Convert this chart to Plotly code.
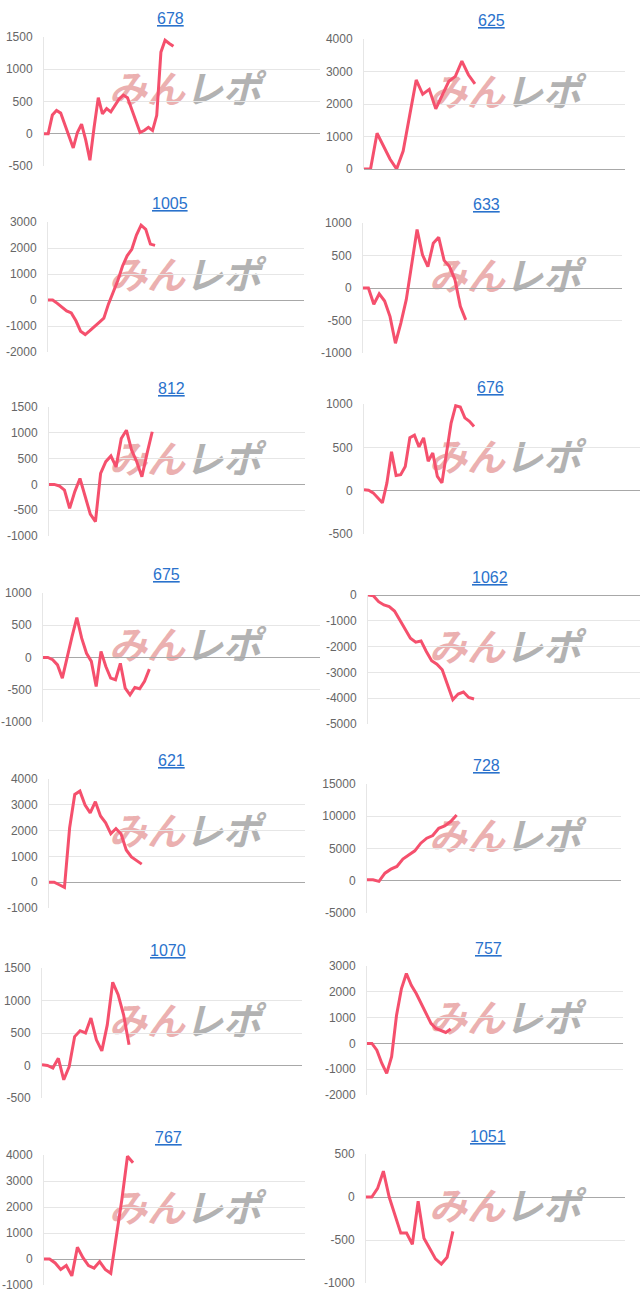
import plotly.graph_objects as go

W, H = 640, 1303

# ---------------- data ----------------
titles = ["678", "625", "1005", "633", "812", "676", "675",
          "1062", "621", "728", "1070", "757", "767", "1051"]

s678 = [0, 0, 290, 360, 320, 130, -50, -220, 20, 150, -100, -410, 100, 560, 310, 390,
        340, 440, 540, 600, 560, 380, 200, 20, 50, 100, 50, 285, 1265, 1450, 1400, 1355]
s625 = [0, 0, 1100, 700, 300, 0, 550, 1650, 2740, 2300, 2450, 1850, 2250, 2700, 2850,
        3320, 2900, 2620]
s1005 = [0, 0, -130, -280, -420, -500, -800, -1200, -1330, -1180, -1000, -860, -700,
         -150, 300, 750, 1300, 1700, 1950, 2500, 2880, 2720, 2150, 2100]
s633 = [0, 0, -250, -90, -200, -440, -850, -540, -180, 385, 900, 510, 330, 690, 780,
        425, 330, 130, -280, -490]
s812 = [0, 0, -30, -110, -465, -140, 115, -240, -575, -720, 215, 440, 550, 340, 890,
        1050, 665, 440, 150, 600, 1020]
s676 = [10, 5, -25, -85, -140, 90, 450, 175, 185, 280, 610, 640, 505, 610, 340, 435,
        165, 90, 435, 780, 980, 965, 840, 800, 740]
s675 = [0, 0, -35, -115, -320, 15, 325, 620, 300, 65, -60, -450, 95, -140, -320, -345,
        -90, -475, -580, -465, -485, -370, -180]
s1062 = [0, -25, -260, -385, -450, -620, -965, -1315, -1675, -1830, -1780, -2190, -2550,
         -2680, -2900, -3480, -4060, -3840, -3760, -3970, -4030]
s621 = [0, 0, -100, -200, 2100, 3400, 3530, 2990, 2690, 3120, 2565, 2300, 1880, 2080,
        1870, 1250, 980, 830, 700]
s728 = [150, 150, -100, 1180, 1800, 2220, 3350, 4020, 4640, 5825, 6600, 7010, 8140, 8500,
        9180, 10200]
s1070 = [10, 0, -40, 110, -220, -15, 445, 535, 500, 730, 395, 225, 625, 1280, 1090, 780, 320]
s757 = [0, 0, -260, -770, -1160, -515, 1095, 2125, 2710, 2255, 1935, 1545, 1160, 775,
        580, 515, 425, 555]
s767 = [0, 0, -150, -400, -250, -650, 450, 50, -250, -350, -100, -400, -550, 800, 2300,
        3950, 3700]
s1051 = [0, 0, 100, 300, 0, -200, -420, -420, -550, -50, -480, -600, -720, -780, -700, -400]

series = [s678, s625, s1005, s633, s812, s676, s675,
          s1062, s621, s728, s1070, s757, s767, s1051]

# y axis (min, max, step)
yaxes = [(-500, 1500, 500), (0, 4000, 1000), (-2000, 3000, 1000), (-1000, 1000, 500),
         (-1000, 1500, 500), (-500, 1000, 500), (-1000, 1000, 500), (-5000, 0, 1000),
         (-1000, 4000, 1000), (-5000, 15000, 5000), (-500, 1500, 500), (-2000, 3000, 1000),
         (-1000, 4000, 1000), (-1000, 500, 500)]
# x axis maximum (category index scale)
xmaxes = [66.1, 40.0, 55.0, 47.9, 49.6, 60.2, 57.3, 51.3, 49.7, 42.5, 47.8, 52.0, 46.9, 44.7]

# ---------------- geometry (pixels) ----------------
# left, right, top, bottom of plot area; title x, title y
geom = [
    (44, 320, 37, 166, 170, 18),
    (364, 625, 39, 169, 491, 21),
    (48, 304, 222, 352, 170, 204),
    (363, 622, 223, 353, 486, 205),
    (49, 305, 407, 536, 171, 388),
    (364, 640, 404, 534, 490, 387),
    (43, 320, 593, 722, 166, 574),
    (368, 640, 595, 724, 490, 577),
    (49, 305, 779, 908, 171, 760),
    (367, 621, 784, 913, 486, 765),
    (42, 302, 968, 1098, 168, 950),
    (367, 623, 966, 1095, 488, 948),
    (44, 305, 1155, 1285, 168, 1137),
    (366, 625, 1154, 1283, 488, 1136),
]

LINE = "#f5506d"
GRID = "#e6e6e6"
ZERO = "#a8a8a8"
TICK = "#666666"
TITLE = "#2a72cc"
FONT = "Liberation Sans, Arial, sans-serif"
JP = "Noto Sans CJK JP"


def px_x(v):
    return v / W


def px_y(v):
    return 1 - v / H


fig = go.Figure()
annotations = []
shapes = []
layout = {}

for i, (vals, name) in enumerate(zip(series, titles)):
    n = i + 1
    xa = "x" if n == 1 else f"x{n}"
    ya = "y" if n == 1 else f"y{n}"
    left, right, top, bottom, tx, ty = geom[i]
    lo, hi, step = yaxes[i]

    fig.add_trace(go.Scatter(
        x=list(range(len(vals))), y=vals, mode="lines",
        line=dict(color=LINE, width=3), xaxis=xa, yaxis=ya,
        showlegend=False, hoverinfo="skip"))

    tickvals = list(range(lo, hi + 1, step))
    ticktext = [str(v) for v in tickvals]

    layout["xaxis" if n == 1 else f"xaxis{n}"] = dict(
        domain=[px_x(left), px_x(right)], range=[0, xmaxes[i]],
        showgrid=False, zeroline=False, showticklabels=False, showline=False,
        ticks="", anchor=ya, fixedrange=True, automargin=False)
    layout["yaxis" if n == 1 else f"yaxis{n}"] = dict(
        domain=[px_y(bottom), px_y(top)], range=[lo, hi],
        tickvals=tickvals, ticktext=ticktext,
        showgrid=True, gridcolor=GRID, gridwidth=1,
        zeroline=True, zerolinecolor=ZERO, zerolinewidth=1,
        showline=True, linecolor=GRID, linewidth=1,
        ticks="outside", ticklen=8, tickcolor="rgba(0,0,0,0)",
        tickfont=dict(family=FONT, size=12, color=TICK),
        anchor=xa, fixedrange=True, automargin=False)

    annotations.append(dict(
        text=f"<u>{name}</u>", x=px_x(tx), y=px_y(ty), xref="paper", yref="paper",
        xanchor="center", yanchor="middle", showarrow=False,
        font=dict(family=FONT, size=16, color=TITLE)))

    # watermark logo
    cx = 187 if left < 320 else 507
    cy = (top + bottom) / 2 - 9
    for txt, col, dx in (("みん", "#ebb0b0", -40), ("レポ", "#b2b2b2", 36)):
        shapes.append(dict(
            type="rect", xref="paper", yref="paper",
            x0=px_x(cx + dx - 40), x1=px_x(cx + dx + 40),
            y0=px_y(cy + 16), y1=px_y(cy - 16),
            line=dict(width=0), fillcolor="rgba(0,0,0,0)", layer="below",
            label=dict(text=f"<b>{txt}</b>", textposition="middle center",
                       font=dict(family=JP, size=38, color=col,
                                 weight=900, style="italic"))))

fig.update_layout(
    template="none",
    width=W, height=H, margin=dict(l=0, r=0, t=0, b=0, autoexpand=False),
    paper_bgcolor="white", plot_bgcolor="rgba(0,0,0,0)",
    annotations=annotations, shapes=shapes, **layout)

fig.write_html(
    "out.html", config={"displayModeBar": False},
    post_script="document.body.style.margin='0';document.body.style.overflow='hidden';")
